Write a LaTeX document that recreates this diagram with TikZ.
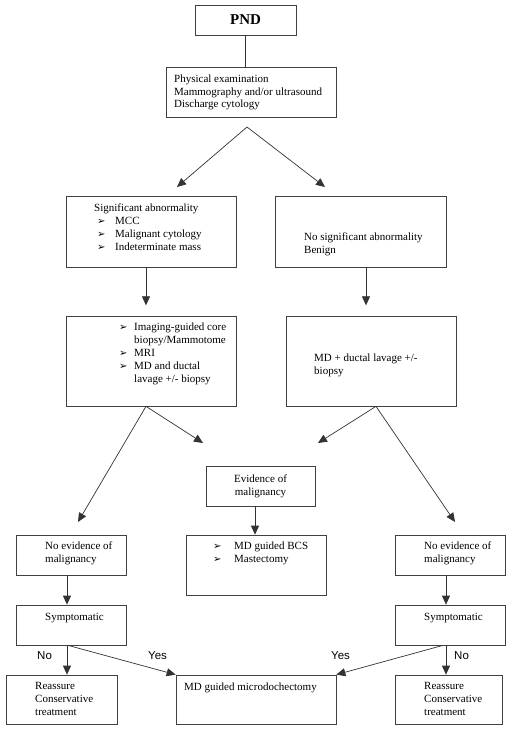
\documentclass[tikz,border=0pt]{standalone}
\usepackage{fontspec}
\setmainfont{Liberation Serif}
\newfontfamily\lblfont{Liberation Sans}
\newfontfamily\dingfont{DejaVu Sans}
\usetikzlibrary{arrows.meta,calc,positioning}
\newcommand{\itm}[1][15pt]{\makebox[#1][l]{\dingfont\fontsize{10}{10}\selectfont ➢}}

\tikzset{
  box/.style={draw=black!75, line width=0.7pt, inner sep=0pt},
  txt/.style={anchor=north west, align=left, inner sep=0pt, font=\fontsize{11}{12.8}\selectfont},
  arr/.style={draw=black!80, line width=0.7pt, -{Triangle[length=9pt,width=8pt]}},
  lnk/.style={draw=black!80, line width=0.7pt},
  yesno/.style={anchor=base west, inner sep=0pt, font=\lblfont\fontsize{11.5}{12}\selectfont},
}

\begin{document}
\begin{tikzpicture}[x=1pt,y=-1pt]
  \useasboundingbox (0,0) rectangle (512,729);

  % boxes
  \node[box, minimum width=101pt, minimum height=30pt, font=\bfseries\fontsize{15}{16}\selectfont] (pnd) at (245.5,20) {PND};
  \node[box, minimum width=170pt, minimum height=50pt] (exam) at (251,92) {};
  \node[box, minimum width=170pt, minimum height=71pt] (sig) at (151,231.5) {};
  \node[box, minimum width=171pt, minimum height=71pt] (nosig) at (360.5,231.5) {};
  \node[box, minimum width=170pt, minimum height=90pt] (img) at (151,361) {};
  \node[box, minimum width=170pt, minimum height=90pt] (mdl) at (371,361) {};
  \node[box, minimum width=109pt, minimum height=40pt, align=center, font=\fontsize{11}{12.8}\selectfont] (evid) at (260.5,486) {Evidence of\\malignancy};
  \node[box, minimum width=140pt, minimum height=60pt] (bcs) at (256,565) {};
  \node[box, minimum width=110pt, minimum height=40pt] (noevl) at (71,555) {};
  \node[box, minimum width=110pt, minimum height=40pt] (noevr) at (450,555) {};
  \node[box, minimum width=110pt, minimum height=40pt] (syml) at (71,625) {};
  \node[box, minimum width=110pt, minimum height=40pt] (symr) at (450,625) {};
  \node[box, minimum width=111pt, minimum height=49pt] (reasl) at (61.5,699.5) {};
  \node[box, minimum width=107pt, minimum height=49pt] (reasr) at (448.5,699.5) {};
  \node[box, minimum width=160pt, minimum height=49pt] (micro) at (256,699.5) {};

  % texts in the boxes
  \node[txt] (examtxt) at (174,74.5) {Physical examination\\Mammography and/or ultrasound\\Discharge cytology};
  \node[txt] (sigtxt) at (94,204) {Significant abnormality\\\hspace*{3pt}\itm[18pt]MCC\\\hspace*{3pt}\itm[18pt]Malignant cytology\\\hspace*{3pt}\itm[18pt]Indeterminate mass};
  \node[txt] (nosigtxt) at (304,232.5) {No significant abnormality\\Benign};
  \node[txt] (imgtxt) at (119,323) {\itm Imaging-guided core\\\hspace*{15pt}biopsy/Mammotome\\\itm MRI\\\itm MD and ductal\\\hspace*{15pt}lavage +/- biopsy};
  \node[txt] (mdltxt) at (314,354) {MD + ductal lavage +/-\\biopsy};
  \node[txt] (bcstxt) at (213,542) {\itm[21pt]MD guided BCS\\\itm[21pt]Mastectomy};
  \node[txt] (noevltxt) at (45,542) {No evidence of\\malignancy};
  \node[txt] (noevrtxt) at (424,542) {No evidence of\\malignancy};
  \node[txt] (symltxt) at (45,613) {Symptomatic};
  \node[txt] (symrtxt) at (424,613) {Symptomatic};
  \node[txt] (reasltxt) at (35,682.5) {Reassure\\Conservative\\treatment};
  \node[txt] (reasrtxt) at (424,682.5) {Reassure\\Conservative\\treatment};
  \node[txt] (microtxt) at (184,682.5) {MD guided microdochectomy};

  % yes / no labels
  \node[yesno] (nol) at (37,659) {No};
  \node[yesno] (yesl) at (148,659) {Yes};
  \node[yesno] (yesr) at (331,659) {Yes};
  \node[yesno] (nor) at (454,659) {No};

  % free ends of the split arrows
  \coordinate (fork) at (247,127);
  \coordinate (sigin) at (177,187);
  \coordinate (nosigin) at (325,187);
  \coordinate (imgout) at ([xshift=-5pt]img.south);
  \coordinate (mdlout) at ([xshift=5pt]mdl.south);
  \coordinate (evinl) at (203,443);
  \coordinate (evinr) at (318,443);
  \coordinate (noevlin) at (78,522);
  \coordinate (noevrin) at (455,522);

  % connectors
  \draw[lnk] (pnd.south) -- (pnd.south |- exam.north);
  \draw[arr] (fork) -- (sigin);
  \draw[arr] (fork) -- (nosigin);
  \draw[arr] ([xshift=-5pt]sig.south) -- ++(0,38);
  \draw[arr] ([xshift=5.5pt]nosig.south) -- ++(0,38);
  \draw[arr] (imgout) -- (noevlin);
  \draw[arr] (imgout) -- (evinl);
  \draw[arr] (mdlout) -- (evinr);
  \draw[arr] (mdlout) -- (noevrin);
  \draw[arr] ([xshift=-5.5pt]evid.south) -- ([xshift=-5.5pt]evid.south |- bcs.north);
  \draw[arr] ([xshift=-4pt]noevl.south) -- ([xshift=-4pt]noevl.south |- syml.north);
  \draw[arr] ([xshift=-4pt]noevr.south) -- ([xshift=-4pt]noevr.south |- symr.north);
  \draw[arr] ([xshift=-4pt]syml.south) -- ([xshift=-4pt]syml.south |- reasl.north);
  \draw[arr] ([xshift=-4pt]symr.south) -- ([xshift=-4pt]symr.south |- reasr.north);
  \draw[arr] ([xshift=-3pt]syml.south) -- (micro.north west);
  \draw[arr] ([xshift=-7pt]symr.south) -- (micro.north east);
\end{tikzpicture}
\end{document}
